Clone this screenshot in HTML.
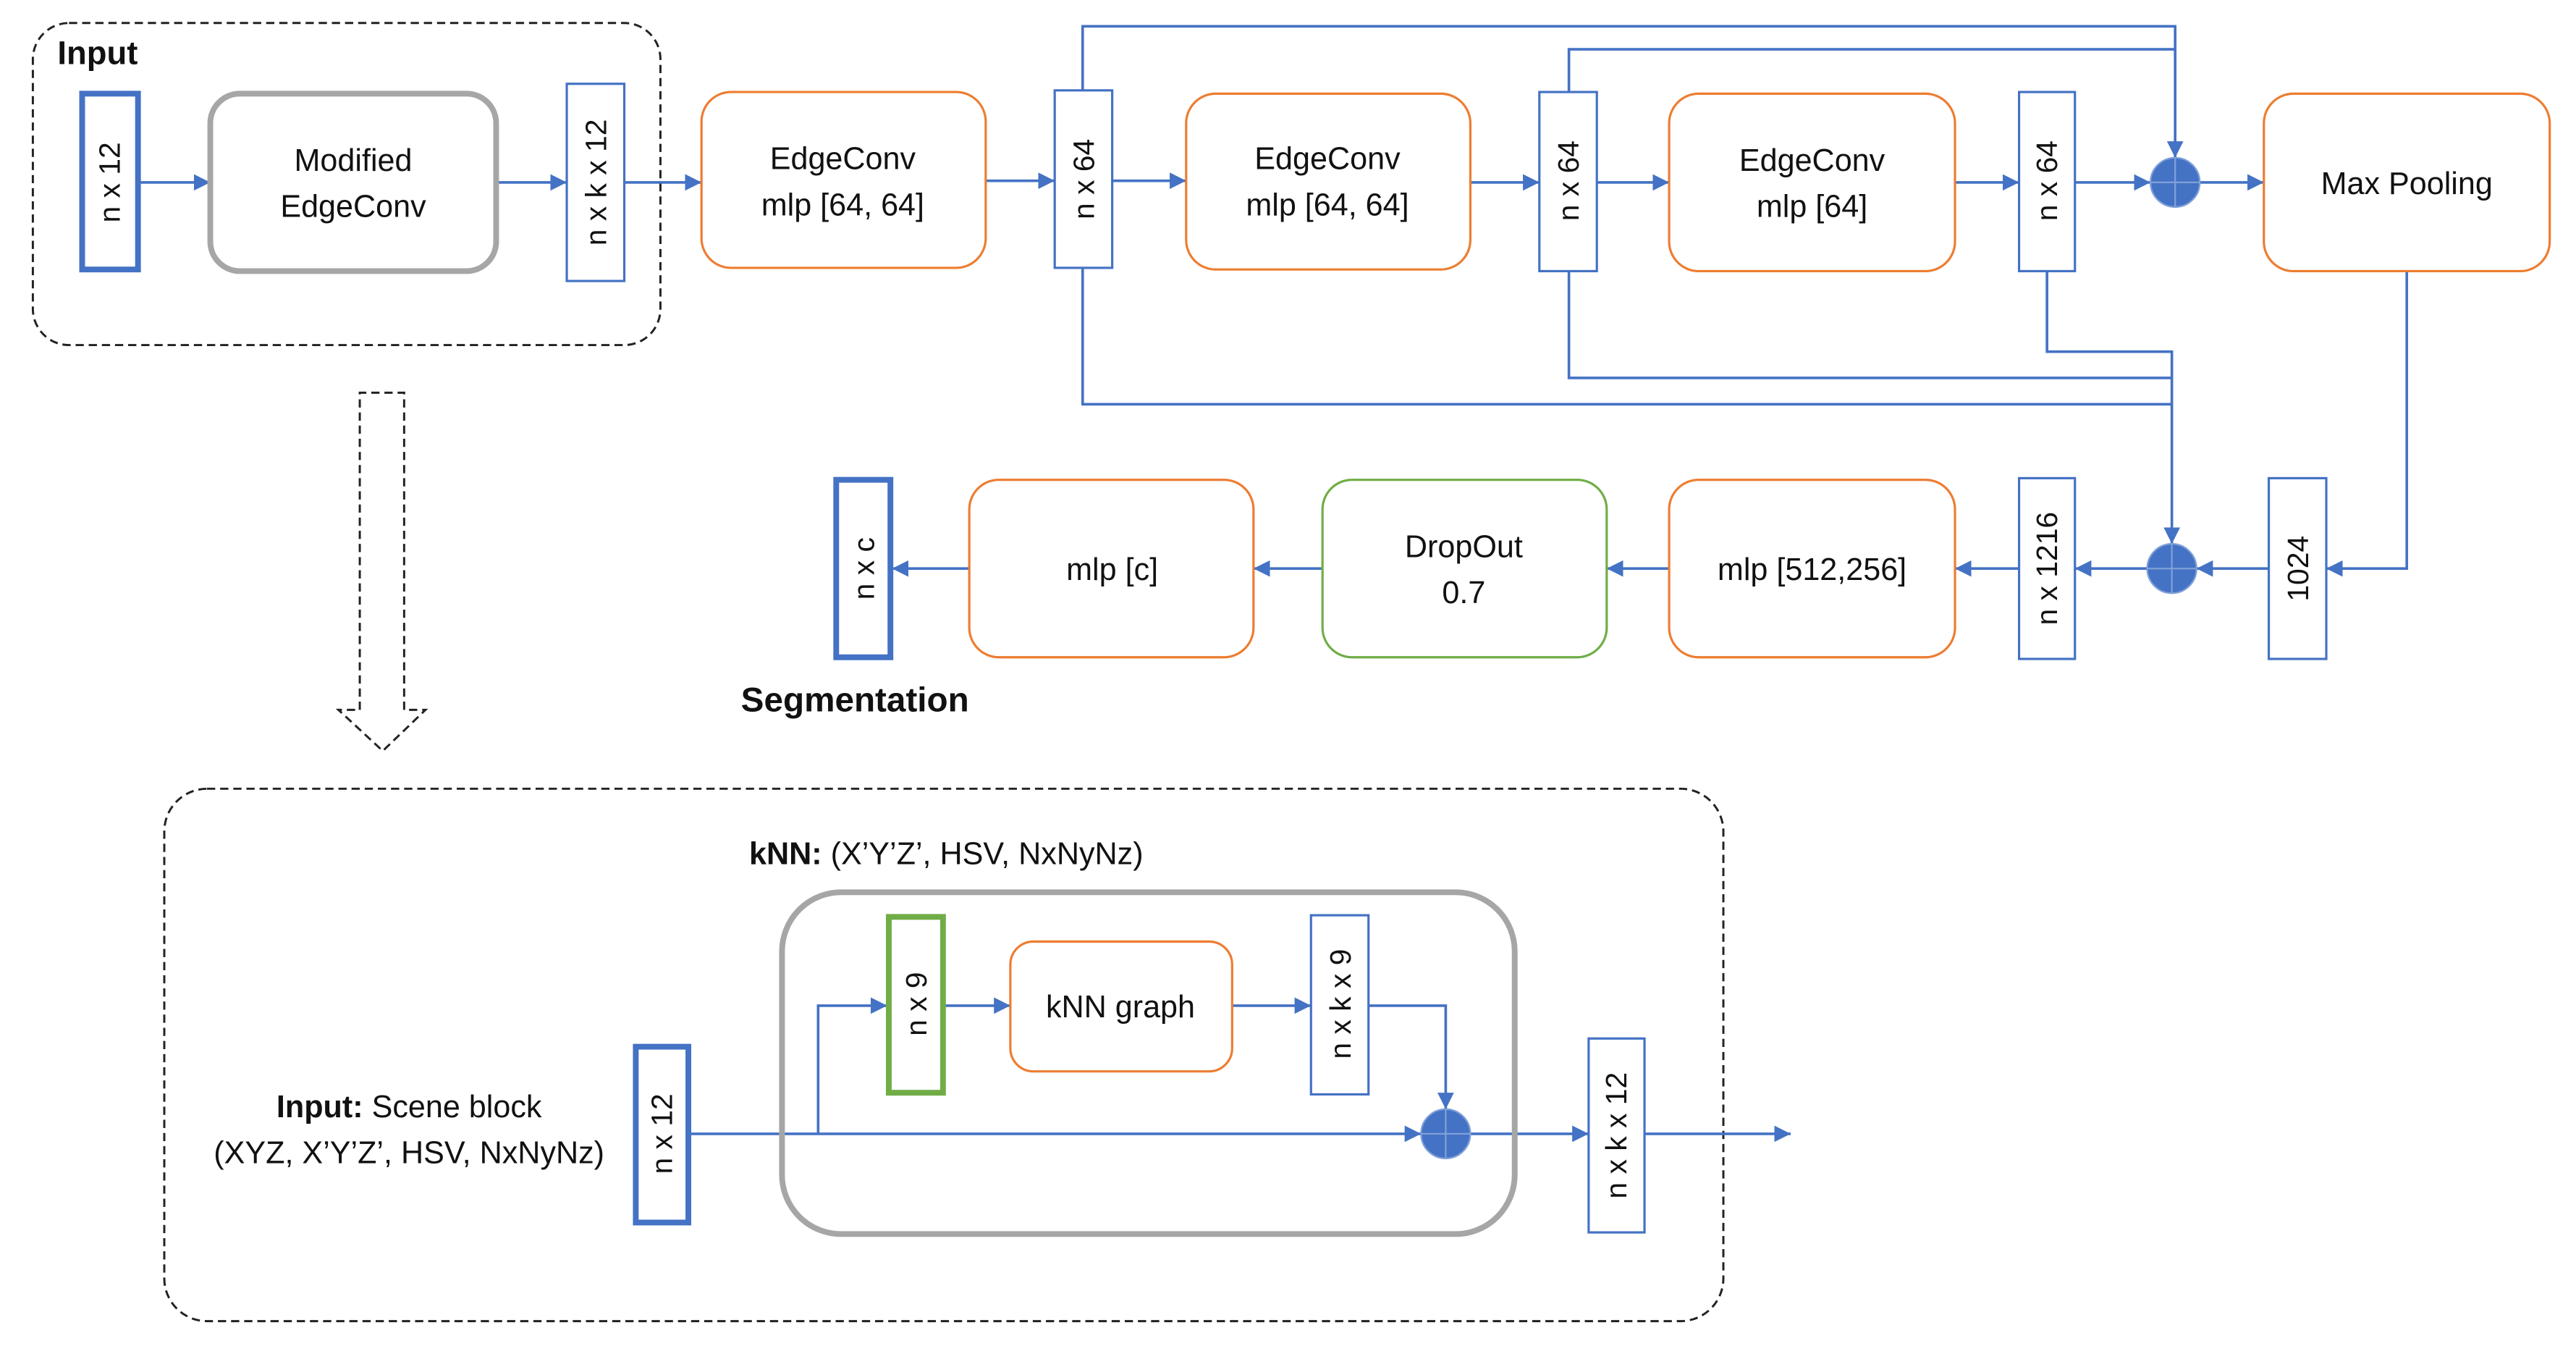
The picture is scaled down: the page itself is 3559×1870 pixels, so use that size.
<!DOCTYPE html>
<html><head><meta charset="utf-8"><style>
html,body{margin:0;padding:0;background:#fff;}
svg{display:block;}
text{font-family:"Liberation Sans",sans-serif;fill:#111;}
</style></head><body>
<svg width="3559" height="1870" viewBox="0 0 1568 824" preserveAspectRatio="none" xmlns="http://www.w3.org/2000/svg">
<defs>
<marker id="a" viewBox="0 0 10 10" refX="10" refY="5" markerWidth="10" markerHeight="10" markerUnits="userSpaceOnUse" orient="auto"><path d="M0,0L10,5L0,10z" fill="#4472c4"/></marker>
</defs>
<g fill="none" stroke="#222" stroke-width="1.3" stroke-dasharray="5,3">
<rect x="20" y="14" width="382" height="196" rx="22"/>
<rect x="100" y="480" width="949" height="324" rx="26"/>
<path d="M219,432 V239 H246 V432 H259 L233,457 L206,432 Z"/>
</g>
<text x="35" y="39" font-size="20" font-weight="bold">Input</text>
<text x="451" y="433" font-size="21" font-weight="bold">Segmentation</text>
<text x="456" y="526" font-size="19"><tspan font-weight="bold">kNN:</tspan> (X’Y’Z’, HSV, NxNyNz)</text>
<text x="249" y="680" font-size="19" text-anchor="middle"><tspan font-weight="bold">Input:</tspan> Scene block</text>
<text x="249" y="708" font-size="19" text-anchor="middle">(XYZ, X’Y’Z’, HSV, NxNyNz)</text>

<g stroke="#4472c4" stroke-width="1.6" fill="none">
<line x1="85" y1="111" x2="128" y2="111" marker-end="url(#a)"/>
<line x1="302" y1="111" x2="345" y2="111" marker-end="url(#a)"/>
<line x1="380" y1="111" x2="427" y2="111" marker-end="url(#a)"/>
<line x1="600" y1="110" x2="642" y2="110" marker-end="url(#a)"/>
<line x1="677" y1="110" x2="722" y2="110" marker-end="url(#a)"/>
<line x1="895" y1="111" x2="937" y2="111" marker-end="url(#a)"/>
<line x1="972" y1="111" x2="1016" y2="111" marker-end="url(#a)"/>
<line x1="1190" y1="111" x2="1229" y2="111" marker-end="url(#a)"/>
<line x1="1263" y1="111" x2="1309" y2="111" marker-end="url(#a)"/>
<line x1="1339" y1="111" x2="1378" y2="111" marker-end="url(#a)"/>
<polyline points="659,55 659,16 1324,16 1324,96" marker-end="url(#a)"/>
<polyline points="955,56 955,30 1324,30"/>
<polyline points="659,163 659,246 1322,246"/>
<polyline points="955,165 955,230 1322,230"/>
<polyline points="1246,165 1246,214 1322,214 1322,331" marker-end="url(#a)"/>
<polyline points="1465,165 1465,346 1416,346" marker-end="url(#a)"/>
<line x1="1381" y1="346" x2="1337" y2="346" marker-end="url(#a)"/>
<line x1="1307" y1="346" x2="1263" y2="346" marker-end="url(#a)"/>
<line x1="1229" y1="346" x2="1190" y2="346" marker-end="url(#a)"/>
<line x1="1016" y1="346" x2="978" y2="346" marker-end="url(#a)"/>
<line x1="805" y1="346" x2="763" y2="346" marker-end="url(#a)"/>
<line x1="590" y1="346" x2="543" y2="346" marker-end="url(#a)"/>
<line x1="420" y1="690" x2="865" y2="690" marker-end="url(#a)"/>
<polyline points="498,690 498,612 540,612" marker-end="url(#a)"/>
<line x1="575" y1="612" x2="615" y2="612" marker-end="url(#a)"/>
<line x1="750" y1="612" x2="798" y2="612" marker-end="url(#a)"/>
<polyline points="833,612 880,612 880,675" marker-end="url(#a)"/>
<line x1="895" y1="690" x2="967" y2="690" marker-end="url(#a)"/>
<line x1="1001" y1="690" x2="1090" y2="690" marker-end="url(#a)"/>
</g>

<g fill="none" stroke="#a6a6a6" stroke-width="3.5">
<rect x="128" y="57" width="174" height="108" rx="18"/>
<rect x="476" y="543" width="446" height="208" rx="36"/>
</g>
<g fill="#fff" stroke="#ed7d31" stroke-width="1.4">
<rect x="427" y="56" width="173" height="107" rx="18"/>
<rect x="722" y="57" width="173" height="107" rx="18"/>
<rect x="1016" y="57" width="174" height="108" rx="18"/>
<rect x="1378" y="57" width="174" height="108" rx="18"/>
<rect x="1016" y="292" width="174" height="108" rx="18"/>
<rect x="590" y="292" width="173" height="108" rx="18"/>
<rect x="615" y="573" width="135" height="79" rx="14"/>
</g>
<rect x="805" y="292" width="173" height="108" rx="18" fill="#fff" stroke="#70ad47" stroke-width="1.4"/>
<g fill="#fff" stroke="#4472c4" stroke-width="1.4">
<rect x="345" y="51" width="35" height="120"/>
<rect x="642" y="55" width="35" height="108"/>
<rect x="937" y="56" width="35" height="109"/>
<rect x="1229" y="56" width="34" height="109"/>
<rect x="1229" y="291" width="34" height="110"/>
<rect x="1381" y="291" width="35" height="110"/>
<rect x="798" y="557" width="35" height="109"/>
<rect x="967" y="632" width="34" height="118"/>
</g>
<g fill="#fff" stroke="#4472c4" stroke-width="3.5">
<rect x="50" y="57" width="34" height="107"/>
<rect x="509" y="292" width="33" height="108"/>
<rect x="387" y="637" width="32" height="107"/>
</g>
<rect x="541" y="558" width="33" height="107" fill="#fff" stroke="#70ad47" stroke-width="3.5"/>
<g fill="#4472c4" stroke="#7fa0d8" stroke-width="1">
<circle cx="1324" cy="111" r="15"/><circle cx="1322" cy="346" r="15"/><circle cx="880" cy="690" r="15"/>
</g>
<g stroke="#7fa0d8" stroke-width="1">
<path d="M1309,111H1339M1324,96V126M1307,346H1337M1322,331V361M865,690H895M880,675V705"/>
</g>

<g font-size="19" text-anchor="middle">
<text x="215" y="104">Modified</text><text x="215" y="132">EdgeConv</text>
<text x="513" y="103">EdgeConv</text><text x="513" y="131">mlp [64, 64]</text>
<text x="808" y="103">EdgeConv</text><text x="808" y="131">mlp [64, 64]</text>
<text x="1103" y="104">EdgeConv</text><text x="1103" y="132">mlp [64]</text>
<text x="1465" y="118">Max Pooling</text>
<text x="1103" y="353">mlp [512,256]</text>
<text x="891" y="339">DropOut</text><text x="891" y="367">0.7</text>
<text x="677" y="353">mlp [c]</text>
<text x="682" y="619">kNN graph</text>
</g>
<g font-size="18" text-anchor="middle">
<text transform="translate(73,111) rotate(-90)">n x 12</text>
<text transform="translate(369,111) rotate(-90)">n x k x 12</text>
<text transform="translate(666,109) rotate(-90)">n x 64</text>
<text transform="translate(961,110) rotate(-90)">n x 64</text>
<text transform="translate(1252,110) rotate(-90)">n x 64</text>
<text transform="translate(1252,346) rotate(-90)">n x 1216</text>
<text transform="translate(1405,346) rotate(-90)">1024</text>
<text transform="translate(532,346) rotate(-90)">n x c</text>
<text transform="translate(564,611) rotate(-90)">n x 9</text>
<text transform="translate(822,611) rotate(-90)">n x k x 9</text>
<text transform="translate(409,690) rotate(-90)">n x 12</text>
<text transform="translate(990,691) rotate(-90)">n x k x 12</text>
</g>
</svg>
</body></html>
